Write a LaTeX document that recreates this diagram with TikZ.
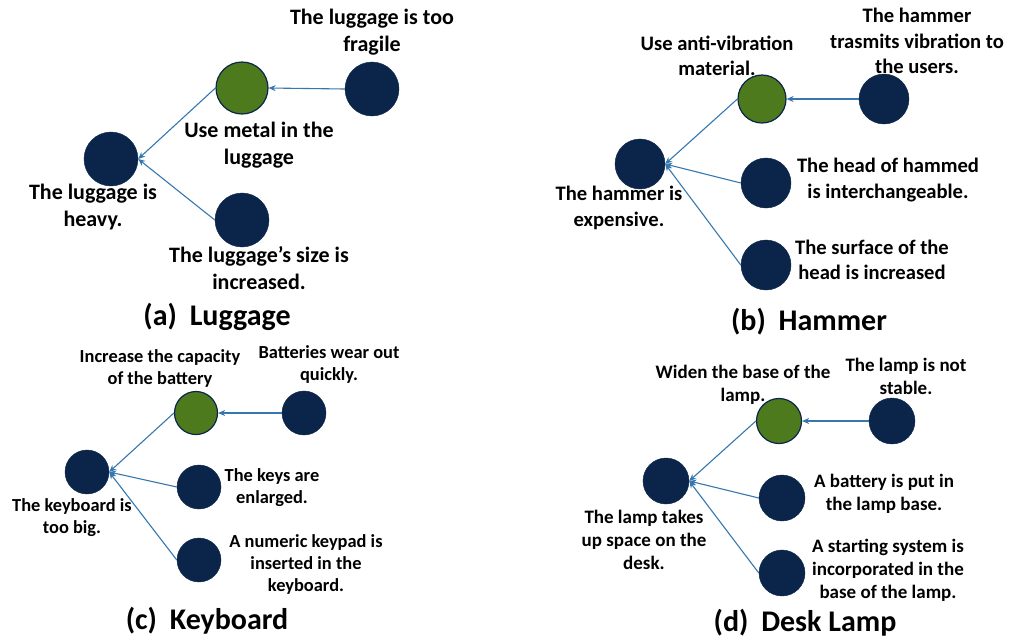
\documentclass[tikz,border=0pt]{standalone}
\usepackage{fontspec}
\setmainfont{Carlito}
\usetikzlibrary{arrows.meta}
\definecolor{navy}{HTML}{0B2449}
\definecolor{leaf}{HTML}{4E7A1E}
\definecolor{arrowblue}{HTML}{3577AE}
\begin{document}
\begin{tikzpicture}[x=1pt,y=-1pt,
  dot/.style={circle,fill=navy,draw=navy,minimum size=#1,inner sep=0pt},
  gdot/.style={circle,fill=leaf,draw=navy,line width=1.2pt,minimum size=#1,inner sep=0pt},
  arr/.style={draw=arrowblue,line width=1.1pt,-{Stealth[length=7pt,width=6pt]}},
  lblA/.style={align=center,inner sep=0pt,font=\bfseries\fontsize{22}{27}\selectfont},
  lblB/.style={align=center,inner sep=0pt,font=\bfseries\fontsize{20.6}{25.5}\selectfont},
  lblC/.style={align=center,inner sep=0pt,font=\bfseries\fontsize{18.4}{22}\selectfont},
  lblD/.style={align=center,inner sep=0pt,font=\bfseries\fontsize{19}{23}\selectfont},
  captext/.style={inner sep=0pt,font=\bfseries\fontsize{30}{34}\selectfont}
]
\useasboundingbox (0,0) rectangle (1009,641);

% ---------- (a) Luggage ----------
\node[dot=54] (a1) at (111,159) {};
\node[gdot=52] (a2) at (242,88) {};
\node[dot=54] (a3) at (372,89) {};
\node[dot=54] (a4) at (242,220) {};
\draw[arr] (a3.west) -- (a2.east);
\draw[arr] (a2.west) -- (a1.east);
\draw[arr] (a4.west) -- (a1.east);
\node[lblA] (ta3) at (372,32) {The luggage is too\\fragile};
\node[lblA] (ta2) at (259,145) {Use metal in the\\luggage};
\node[lblA] (ta1) at (93,207) {The luggage is\\heavy.};
\node[lblA] (ta4) at (259,268) {The luggage’s size is\\increased.};
\node[captext] (capa) at (217,317) {(a)\hspace{0.2em} Luggage};

% ---------- (b) Hammer ----------
\node[dot=50] (b1) at (640,164) {};
\node[gdot=48] (b2) at (762,99) {};
\node[dot=50] (b3) at (884,99) {};
\node[dot=50] (b4) at (766,183) {};
\node[dot=50] (b5) at (766,265) {};
\draw[arr] (b3.west) -- (b2.east);
\draw[arr] (b2.west) -- (b1.east);
\draw[arr] (b4.west) -- (b1.east);
\draw[arr] (b5.west) -- (b1.east);
\node[lblB] (tb3) at (917,41) {The hammer\\trasmits vibration to\\the users.};
\node[lblB] (tb2) at (717,56) {Use anti-vibration\\material.};
\node[lblB] (tb1) at (619,208) {The hammer is\\expensive.};
\node[lblB] (tb4) at (888,180) {The head of hammed\\is interchangeable.};
\node[lblB] (tb5) at (872,260) {The surface of the\\head is increased};
\node[captext] (capb) at (809,322) {(b)\hspace{0.2em} Hammer};

% ---------- (c) Keyboard ----------
\node[dot=44] (c1) at (87,472) {};
\node[gdot=43] (c2) at (196,413) {};
\node[dot=44] (c3) at (304,413) {};
\node[dot=44] (c4) at (199,487) {};
\node[dot=44] (c5) at (199,560) {};
\draw[arr] (c3.west) -- (c2.east);
\draw[arr] (c2.west) -- (c1.east);
\draw[arr] (c4.west) -- (c1.east);
\draw[arr] (c5.west) -- (c1.east);
\node[lblC] (tc2) at (160,368) {Increase the capacity\\of the battery};
\node[lblC] (tc3) at (329,364) {Batteries wear out\\quickly.};
\node[lblC] (tc1) at (72,518) {The keyboard is\\too big.};
\node[lblC] (tc4) at (272,488) {The keys are\\enlarged.};
\node[lblC] (tc5) at (306,564) {A numeric keypad is\\inserted in the\\keyboard.};
\node[captext] (capc) at (207,621) {(c)\hspace{0.2em} Keyboard};

% ---------- (d) Desk Lamp ----------
\node[dot=46] (d1) at (666,481) {};
\node[gdot=45] (d2) at (779,421) {};
\node[dot=46] (d3) at (892,421) {};
\node[dot=46] (d4) at (782,498) {};
\node[dot=46] (d5) at (782,573) {};
\draw[arr] (d3.west) -- (d2.east);
\draw[arr] (d2.west) -- (d1.east);
\draw[arr] (d4.west) -- (d1.east);
\draw[arr] (d5.west) -- (d1.east);
\node[lblD] (td2) at (743,385) {Widen the base of the\\lamp.};
\node[lblD] (td3) at (906,376) {The lamp is not\\stable.};
\node[lblD] (td1) at (644,540) {The lamp takes\\up space on the\\desk.};
\node[lblD] (td4) at (884,494) {A battery is put in\\the lamp base.};
\node[lblD] (td5) at (888,570) {A starting system is\\incorporated in the\\base of the lamp.};
\node[captext] (capd) at (805,623) {(d)\hspace{0.2em} Desk Lamp};
\end{tikzpicture}
\end{document}
